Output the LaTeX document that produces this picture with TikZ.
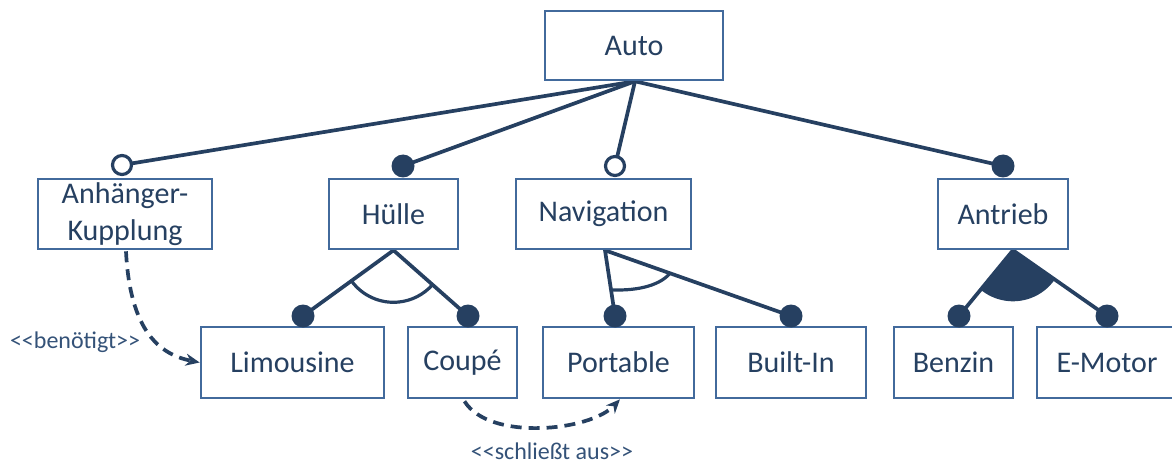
\documentclass[tikz,border=0pt]{standalone}
\usepackage{fontspec}
\setmainfont{Carlito}
\usetikzlibrary{arrows.meta,calc}
\pgfdeclarelayer{background}
\pgfsetlayers{background,main}
\definecolor{boxblue}{RGB}{66,106,156}
\definecolor{ink}{RGB}{38,64,97}
\definecolor{labelink}{RGB}{52,82,120}
\begin{document}
\begin{tikzpicture}[x=1pt,y=-1pt,
  feature/.style={draw=boxblue, line width=2.6pt, fill=white, text=ink,
    inner sep=0pt, minimum height=70pt, align=center,
    font=\fontsize{30}{37}\selectfont},
  tie/.style={draw=ink, line width=3.7pt},
  mand/.style={circle, fill=ink, minimum size=23pt, inner sep=0pt},
  opt/.style={circle, draw=ink, fill=white, line width=3.2pt,
    minimum size=19pt, inner sep=0pt},
  dep/.style={draw=ink, line width=3.7pt, dash pattern=on 11pt off 7pt,
    -{Stealth[length=14pt,width=12pt]}},
  stereo/.style={text=labelink, inner sep=0pt, font=\fontsize{24}{28}\selectfont}]
\useasboundingbox (0,0) rectangle (1172,465);

% features
\node[feature, minimum width=178pt, minimum height=69pt] (auto) at (634,45.5) {Auto};
\node[feature, minimum width=174pt] (ahk) at (125,214) {Anhänger-\\Kupplung};
\node[feature, minimum width=129pt] (huelle) at (393.5,214) {Hülle};
\node[feature, minimum width=175pt] (nav) at (603.5,214) {Navigation};
\node[feature, minimum width=130pt] (antrieb) at (1003,214) {Antrieb};
\node[feature, minimum width=183pt, minimum height=71pt] (limo) at (292.5,362.5) {Limousine};
\node[feature, minimum width=109pt, minimum height=71pt] (coupe) at (462.5,362.5) {Coupé};
\node[feature, minimum width=151pt, minimum height=71pt] (portable) at (618.5,362.5) {Portable};
\node[feature, minimum width=150pt, minimum height=71pt] (builtin) at (791,362.5) {Built-In};
\node[feature, minimum width=119pt, minimum height=71pt] (benzin) at (953.5,362.5) {Benzin};
\node[feature, minimum width=140pt, minimum height=71pt] (emotor) at (1107,362.5) {E-Motor};

% optional / mandatory markers
\node[opt]  (o-ahk)     at (122,165) {};
\node[mand] (m-huelle)  at (403,166) {};
\node[opt]  (o-nav)     at (615,166) {};
\node[mand] (m-antrieb) at (1003,166) {};
\node[mand] (m-limo)    at (303,316) {};
\node[mand] (m-coupe)   at (468,316) {};
\node[mand] (m-port)    at (615,316) {};
\node[mand] (m-built)   at (791,316) {};
\node[mand] (m-benzin)  at (959,316) {};
\node[mand] (m-emotor)  at (1107,316) {};

% branching points
\coordinate (hub) at ($(auto.south)+(1,0)$);
\coordinate (h-apex) at (huelle.south);
\coordinate (n-apex) at ($(nav.south)+(1.5,0)$);
\coordinate (a-apex) at ($(antrieb.south)+(10,0)$);

\begin{pgfonlayer}{background}
  \draw[tie] (hub) -- (o-ahk.center);
  \draw[tie] (hub) -- (m-huelle.center);
  \draw[tie] (hub) -- (o-nav.center);
  \draw[tie] (hub) -- (m-antrieb.center);
  \draw[tie] (m-limo.center) -- (h-apex) -- (m-coupe.center);
  \draw[tie] (m-port.center) -- (n-apex) -- (m-built.center);
  \draw[tie] (m-benzin.center) -- (a-apex) -- (m-emotor.center);
\end{pgfonlayer}

% alternative group (Hülle)
\draw[tie, line width=3.2pt] let \p1=($(m-limo)-(h-apex)$), \p2=($(m-coupe)-(h-apex)$),
  \n1={atan2(\y1,\x1)}, \n2={atan2(\y2,\x2)} in
  ($(h-apex)!52pt!(m-limo)$) arc[start angle=\n1, end angle=\n2, radius=52pt];

% alternative group (Navigation)
\coordinate (n-l) at ($(n-apex)!40pt!(m-port)$);
\coordinate (n-r) at ($(n-apex)!69pt!(m-built)$);
\draw[tie, line width=3.2pt] (n-l) .. controls +(22,1) and +(-12,14) .. (n-r);

% or group (Antrieb)
\fill[ink] let \p1=($(m-benzin)-(a-apex)$), \p2=($(m-emotor)-(a-apex)$),
  \n1={atan2(\y1,\x1)}, \n2={atan2(\y2,\x2)} in
  (a-apex) -- ($(a-apex)!51pt!(m-benzin)$)
  arc[start angle=\n1, end angle=\n2, radius=51pt] -- cycle;

% cross-tree constraints
\draw[dep] ($(ahk.south)+(1,1)$) .. controls +(4,80) and +(-40,-8) .. (limo.west);
\draw[dep] ($(coupe.south)+(2,2)$) .. controls +(25,40) and +(-30,32) .. ($(portable.south)+(1.5,0)$);

\node[stereo] (lbl-req) at (75,342) {<\kern0pt<benötigt>\kern0pt>};
\node[stereo] (lbl-excl) at (552,451) {<\kern0pt<schließt aus>\kern0pt>};
\end{tikzpicture}
\end{document}
